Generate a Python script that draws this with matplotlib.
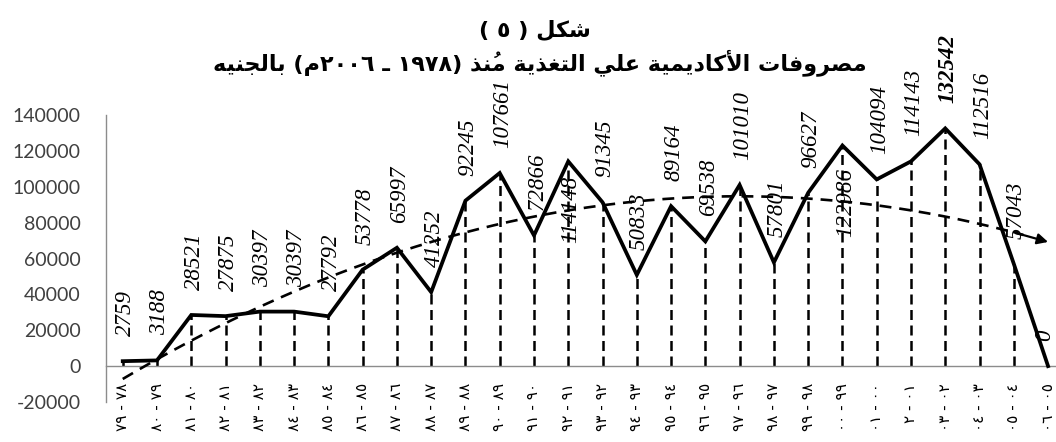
import numpy as np
import matplotlib
matplotlib.use("Agg")
import matplotlib.pyplot as plt

# ---- data -------------------------------------------------------------
periods = ["٧٩ - ٧٨", "٨٠ - ٧٩", "٨١ - ٨٠", "٨٢ - ٨١", "٨٣ - ٨٢", "٨٤ - ٨٣",
           "٨٥ - ٨٤", "٨٦ - ٨٥", "٨٧ - ٨٦", "٨٨ - ٨٧", "٨٩ - ٨٨", "٩٠ - ٨٩",
           "٩١ - ٩٠", "٩٢ - ٩١", "٩٣ - ٩٢", "٩٤ - ٩٣", "٩٥ - ٩٤", "٩٦ - ٩٥",
           "٩٧ - ٩٦", "٩٨ - ٩٧", "٩٩ - ٩٨", "٠٠ - ٩٩", "٠١ - ٠٠", "٢ - ٠١",
           "٠٣ - ٠٢", "٠٤ - ٠٣", "٠٥ - ٠٤", "٠٦ - ٠٥"]
spending = [2759, 3188, 28521, 27875, 30397, 30397, 27792, 53778, 65997, 41252,
            92245, 107661, 72866, 114148, 91345, 50833, 89164, 69538, 101010,
            57801, 96627, 122986, 104094, 114143, 132542, 112516, 57043, 0]
y_ticks = [-20000, 0, 20000, 40000, 60000, 80000, 100000, 120000, 140000]

title_1 = "شكل ( ٥ )"
title_2 = "مصروفات الأكاديمية علي التغذية مُنذ (١٩٧٨ ـ ٢٠٠٦م) بالجنيه"

# ---- minimal Arabic shaping + right-to-left ordering ---------------------
_ranges = [("ء", 0xFE80, 1), ("آ", 0xFE81, 2), ("أ", 0xFE83, 2), ("ؤ", 0xFE85, 2),
           ("إ", 0xFE87, 2), ("ئ", 0xFE89, 4), ("ا", 0xFE8D, 2), ("ب", 0xFE8F, 4),
           ("ة", 0xFE93, 2), ("ت", 0xFE95, 4), ("ث", 0xFE99, 4), ("ج", 0xFE9D, 4),
           ("ح", 0xFEA1, 4), ("خ", 0xFEA5, 4), ("د", 0xFEA9, 2), ("ذ", 0xFEAB, 2),
           ("ر", 0xFEAD, 2), ("ز", 0xFEAF, 2), ("س", 0xFEB1, 4), ("ش", 0xFEB5, 4),
           ("ص", 0xFEB9, 4), ("ض", 0xFEBD, 4), ("ط", 0xFEC1, 4), ("ظ", 0xFEC5, 4),
           ("ع", 0xFEC9, 4), ("غ", 0xFECD, 4), ("ف", 0xFED1, 4), ("ق", 0xFED5, 4),
           ("ك", 0xFED9, 4), ("ل", 0xFEDD, 4), ("م", 0xFEE1, 4), ("ن", 0xFEE5, 4),
           ("ه", 0xFEE9, 4), ("و", 0xFEED, 2), ("ى", 0xFEEF, 2), ("ي", 0xFEF1, 4)]
FORMS = {c: tuple(chr(s + k) for k in range(n)) for c, s, n in _ranges}
LAM_ALEF = {"آ": (0xFEF5, 0xFEF6), "أ": (0xFEF7, 0xFEF8),
            "إ": (0xFEF9, 0xFEFA), "ا": (0xFEFB, 0xFEFC)}


def _is_mark(ch):
    return 0x064B <= ord(ch) <= 0x065F or ch == "\u0670"


def _joins_next(base):
    return base in FORMS and len(FORMS[base]) == 4


def rtl(text):
    """Shape Arabic letters and return the line in left-to-right drawing order."""
    clusters = []
    for ch in text:
        if _is_mark(ch) and clusters:
            clusters[-1][1] += ch
        else:
            clusters.append([ch, ""])
    merged, i = [], 0
    while i < len(clusters):
        b, m = clusters[i]
        if b == "ل" and i + 1 < len(clusters) and clusters[i + 1][0] in LAM_ALEF:
            merged.append(["LA" + clusters[i + 1][0], m + clusters[i + 1][1]])
            i += 2
        else:
            merged.append([b, m])
            i += 1
    out = []
    for k, (b, m) in enumerate(merged):
        prev = merged[k - 1][0] if k > 0 else None
        nxt = merged[k + 1][0] if k + 1 < len(merged) else None
        prev_joins = prev is not None and _joins_next(prev)
        if b.startswith("LA"):
            iso, fin = LAM_ALEF[b[2]]
            g = chr(fin if prev_joins else iso)
        elif b in FORMS:
            f = FORMS[b]
            nxt_ok = len(f) == 4 and nxt is not None and (nxt in FORMS or nxt.startswith("LA"))
            prv_ok = prev_joins and len(f) >= 2
            if prv_ok and nxt_ok:
                g = f[3]
            elif prv_ok:
                g = f[1]
            elif nxt_ok:
                g = f[2]
            else:
                g = f[0]
        else:
            g = b
        # marks are drawn from the pen position, so they go in front of the base
        out.append(m + g)
    # reverse the sequence, keeping runs of digits in their own order
    res, run = [], []
    for t in out:
        if t.isdigit():
            run.append(t)
        else:
            if run:
                res.append("".join(run)); run = []
            res.append(t)
    if run:
        res.append("".join(run))
    mirror = {"(": ")", ")": "("}
    return "".join(mirror.get(t, t) for t in reversed(res))


# ---- figure -------------------------------------------------------------
fig = plt.figure(figsize=(10.56, 4.42), dpi=100)
ax = fig.add_axes([105.6 / 1056, 1 - 402 / 442, 959.6 / 1056, 287 / 442])

for s in ("top", "right"):
    ax.spines[s].set_visible(False)
ax.spines["left"].set_color("#8c8c8c")
ax.spines["left"].set_linewidth(1.0)
ax.spines["bottom"].set_position(("data", 0))
ax.spines["bottom"].set_color("#8c8c8c")
ax.spines["bottom"].set_linewidth(1.0)
ax.patch.set_alpha(0)

x = np.arange(len(spending))
vals = np.array(spending, dtype=float)

# drop lines from every point to the zero line
for xi, v in zip(x, vals):
    ax.plot([xi, xi], [0, v], color="black", lw=1.8,
            linestyle=(0, (4, 2.2)), zorder=2)

ax.plot(x, vals, color="black", lw=2.7, zorder=3, solid_joinstyle="miter")

# second-order polynomial trend with an arrow at its end
coef = np.polyfit(x, vals, 2)
tx = np.linspace(0, len(spending) - 1, 300)
ty = np.polyval(coef, tx)
ax.plot(tx[:-8], ty[:-8], color="black", lw=1.9, linestyle=(0, (4.5, 3)), zorder=4)
ax.annotate("", xy=(tx[-1], ty[-1]), xytext=(tx[-12], ty[-12]),
            arrowprops=dict(arrowstyle="-|>", color="black", lw=1.6,
                            mutation_scale=16, shrinkA=0, shrinkB=0), zorder=4)

# value labels (two of them sit beneath their points)
below = {13: 14, 21: 22}
last = len(spending) - 1
for xi, v in zip(x, vals):
    kw = dict(rotation=90, ha="center", fontsize=16.5, style="italic",
              family="Liberation Serif", textcoords="offset points",
              color="black", zorder=5, annotation_clip=False)
    if xi == 24:
        kw["weight"] = "bold"
    dx = -2.5 if xi == last else 2
    if xi in below:
        ax.annotate(f"{int(v)}", (xi, v), xytext=(dx, -below[xi] * 0.72),
                    va="top", **kw)
    else:
        ax.annotate(f"{int(v)}", (xi, v), xytext=(dx, 25 * 0.72),
                    va="bottom", **kw)

ax.set_xlim(-0.5, len(spending) - 0.5)
ax.set_ylim(-20000, 140000)
ax.set_yticks(y_ticks)
ax.set_yticklabels([str(t) for t in y_ticks], family="Lato", fontsize=14,
                   color="#404040")
ax.set_xticks(x)
ax.set_xticklabels(periods, rotation=90, family="DejaVu Sans", fontsize=11,
                   va="top", ha="center", color="black")
ax.tick_params(axis="y", length=0, pad=18)
ax.tick_params(axis="x", length=0, pad=12)

fig.text(535 / 1056, 1 - 37 / 442, rtl(title_1), ha="center", va="baseline",
         family="DejaVu Sans", weight="bold", fontsize=16)
fig.text(540 / 1056, 1 - 70 / 442, rtl(title_2), ha="center", va="baseline",
         family="DejaVu Sans", weight="bold", fontsize=16)

fig.savefig("out.png", dpi=100)
